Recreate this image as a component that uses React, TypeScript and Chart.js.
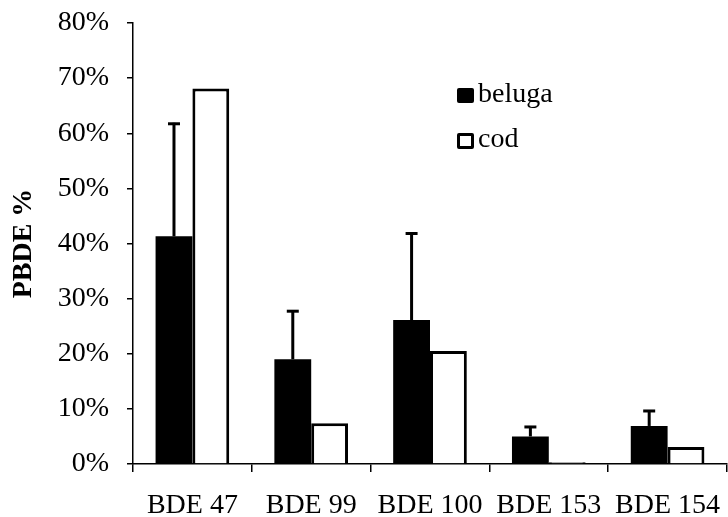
import React, { useEffect, useRef } from "react";
import { Chart, registerables } from "chart.js";

Chart.register(...registerables);

const categories = ["BDE 47", "BDE 99", "BDE 100", "BDE 153", "BDE 154"];
const belugaValues = [41.3, 19.0, 26.1, 5.0, 6.9];
const belugaErrors = [20.6, 8.9, 15.9, 1.9, 2.9];
const codValues = [68.1, 7.4, 20.5, 0.3, 3.1];
const yTicks = [0, 10, 20, 30, 40, 50, 60, 70, 80];

const FONT = "'Liberation Serif', 'Times New Roman', serif";

const errorBarPlugin = {
  id: "errorBars",
  afterDatasetsDraw(chart: any) {
    const meta = chart.getDatasetMeta(0);
    const yScale = chart.scales.y;
    const ctx = chart.ctx;
    ctx.save();
    ctx.strokeStyle = "#000";
    ctx.lineWidth = 3;
    meta.data.forEach((el: any, i: number) => {
      const top = yScale.getPixelForValue(belugaValues[i] + belugaErrors[i]);
      ctx.beginPath();
      ctx.moveTo(el.x, el.y);
      ctx.lineTo(el.x, top);
      ctx.stroke();
      ctx.beginPath();
      ctx.moveTo(el.x - 6, top + 1);
      ctx.lineTo(el.x + 6, top + 1);
      ctx.stroke();
    });
    ctx.restore();
  },
};

export default function App() {
  const ref = useRef<HTMLCanvasElement>(null);
  useEffect(() => {
    if (!ref.current) return;
    const chart = new Chart(ref.current, {
      type: "bar",
      data: {
        labels: categories,
        datasets: [
          {
            label: "beluga",
            data: belugaValues,
            backgroundColor: "#000",
            borderColor: "#000",
            borderWidth: 0,
            categoryPercentage: 0.62,
            barPercentage: 1.0,
          },
          {
            label: "cod",
            data: codValues,
            backgroundColor: "#fff",
            borderColor: "#000",
            borderWidth: 3,
            categoryPercentage: 0.62,
            barPercentage: 1.0,
          },
        ],
      },
      options: {
        responsive: false,
        animation: false,
        layout: { padding: { top: 23, right: 1, left: 0, bottom: 0 } },
        plugins: { legend: { display: false }, tooltip: { enabled: false } },
        scales: {
          x: {
            grid: {
              display: true,
              drawOnChartArea: false,
              drawTicks: true,
              tickLength: 8,
              color: "#000",
              lineWidth: 1.5,
            },
            border: { display: true, color: "#000", width: 1.5 },
            ticks: {
              color: "#000",
              font: { family: FONT, size: 28 },
              padding: 17,
              maxRotation: 0,
            },
            afterFit: (s: any) => {
              s.height = 53;
              s.paddingLeft = 0;
              s.paddingRight = 0;
            },
          },
          y: {
            min: 0,
            max: 80,
            afterBuildTicks: (s: any) => {
              s.ticks = yTicks.map((v) => ({ value: v }));
            },
            grid: {
              display: true,
              drawOnChartArea: false,
              drawTicks: true,
              tickLength: 6,
              color: "#000",
              lineWidth: 1.5,
            },
            border: { display: true, color: "#000", width: 1.5 },
            ticks: {
              color: "#000",
              font: { family: FONT, size: 28 },
              padding: 18,
              callback: (v: any) => v + "%",
            },
            title: {
              display: true,
              text: "PBDE %",
              color: "#000",
              font: { family: FONT, size: 28, weight: "bold" },
              padding: { top: 7, bottom: 0 },
            },
            afterFit: (s: any) => {
              s.width = 133;
              s.paddingTop = 0;
              s.paddingBottom = 0;
            },
          },
        },
      },
      plugins: [errorBarPlugin],
    });
    return () => chart.destroy();
  }, []);

  const legendText: React.CSSProperties = {
    position: "absolute",
    fontFamily: FONT,
    fontSize: 28,
    lineHeight: "28px",
    color: "#000",
    whiteSpace: "nowrap",
  };

  return (
    <div style={{ position: "absolute", left: 0, top: 0, width: 728, height: 517, background: "#fff" }}>
      <canvas ref={ref} width={728} height={517} style={{ display: "block" }} />
      <div style={{ position: "absolute", left: 457, top: 88, width: 17, height: 15, background: "#000", borderRadius: 2 }} />
      <div style={{ ...legendText, left: 478, top: 79 }}>beluga</div>
      <div style={{ position: "absolute", left: 457, top: 133, width: 11, height: 10, border: "3px solid #000", borderRadius: 2, background: "#fff" }} />
      <div style={{ ...legendText, left: 478, top: 124 }}>cod</div>
    </div>
  );
}
